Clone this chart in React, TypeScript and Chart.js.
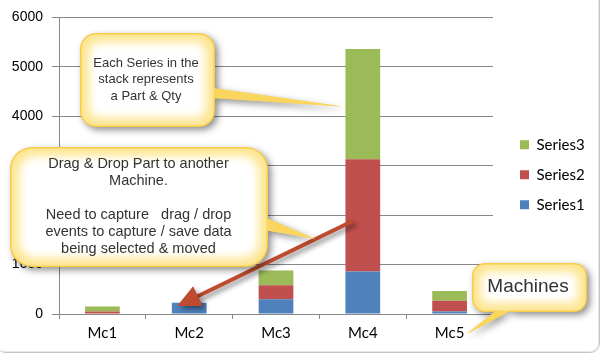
import React, { useEffect, useRef } from "react";
import { Chart, registerables } from "chart.js";

Chart.register(...registerables);

const categories = ["Mc1", "Mc2", "Mc3", "Mc4", "Mc5"];
const series1 = [0, 230, 300, 860, 50];
const series2 = [50, 0, 280, 2270, 220];
const series3 = [100, 0, 300, 2230, 195];
const seriesNames = ["Series1", "Series2", "Series3"];
const seriesColors = ["#4f81bd", "#c0504d", "#9bbb59"];
const yMin = 0;
const yMax = 6000;
const yStep = 1000;

const note1 = ["Each Series in the", "stack represents", "a Part & Qty"];
const note2 = [
  "Drag & Drop Part to another",
  "Machine.",
  "",
  "Need to capture   drag / drop",
  "events to capture / save data",
  "being selected & moved",
];
const note3 = ["Machines"];

const W = 601;
const H = 354;
const AREA_RIGHT = 493;
const LEG_PAD = 15;
const LEG_FONT = 15;
const LEG_BOX = 9;
const DUMMY_W = 12;

function roundRectPath(ctx: CanvasRenderingContext2D, x: number, y: number, w: number, h: number, r: number) {
  ctx.moveTo(x + r, y);
  ctx.lineTo(x + w - r, y);
  ctx.arcTo(x + w, y, x + w, y + r, r);
  ctx.lineTo(x + w, y + h - r);
  ctx.arcTo(x + w, y + h, x + w - r, y + h, r);
  ctx.lineTo(x + r, y + h);
  ctx.arcTo(x, y + h, x, y + h - r, r);
  ctx.lineTo(x, y + r);
  ctx.arcTo(x, y, x + r, y, r);
  ctx.closePath();
}

function drawCallout(
  ctx: CanvasRenderingContext2D,
  x: number, y: number, w: number, h: number, r: number,
  wedge: number[][],
  lines: string[], font: string, cx: number, cy: number, lh: number
) {
  ctx.save();
  ctx.shadowColor = "rgba(0,0,0,0.45)";
  ctx.shadowBlur = 7;
  ctx.shadowOffsetX = 3;
  ctx.shadowOffsetY = 3;
  ctx.fillStyle = "#f9cd4a";
  ctx.beginPath();
  roundRectPath(ctx, x, y, w, h, r);
  ctx.moveTo(wedge[0][0], wedge[0][1]);
  ctx.lineTo(wedge[2][0], wedge[2][1]);
  ctx.lineTo(wedge[1][0], wedge[1][1]);
  ctx.closePath();
  ctx.fill();
  ctx.restore();

  ctx.save();
  ctx.fillStyle = "#fbd65e";
  ctx.beginPath();
  ctx.moveTo(wedge[0][0], wedge[0][1]);
  ctx.lineTo(wedge[2][0], wedge[2][1]);
  ctx.lineTo(wedge[1][0], wedge[1][1]);
  ctx.closePath();
  ctx.fill();
  ctx.restore();

  ctx.save();
  ctx.beginPath();
  roundRectPath(ctx, x + 1.5, y + 1.5, w - 3, h - 3, Math.max(r - 1.5, 1));
  ctx.clip();
  ctx.fillStyle = "#fde58f";
  ctx.fillRect(x, y, w, h);
  ctx.filter = "blur(5px)";
  ctx.fillStyle = "#ffffff";
  ctx.beginPath();
  roundRectPath(ctx, x + 9, y + 9, w - 18, h - 18, Math.max(r - 6, 2));
  ctx.fill();
  ctx.filter = "none";
  ctx.restore();

  ctx.save();
  ctx.fillStyle = "#333333";
  ctx.font = font;
  ctx.textAlign = "center";
  ctx.textBaseline = "middle";
  lines.forEach((t, i) => {
    if (t) ctx.fillText(t, cx, cy + i * lh);
  });
  ctx.restore();
}

const frame = {
  id: "frame",
  beforeDraw(chart: any) {
    const ctx = chart.ctx as CanvasRenderingContext2D;
    ctx.save();
    ctx.fillStyle = "#ffffff";
    ctx.fillRect(0, 0, W, H);
    ctx.strokeStyle = "#c4c4c4";
    ctx.lineWidth = 1;
    ctx.beginPath();
    roundRectPath(ctx, -3.5, -12.5, 603, 365, 9);
    ctx.stroke();
    ctx.strokeStyle = "#e6e6e6";
    ctx.beginPath();
    roundRectPath(ctx, -4.5, -13.5, 603, 365, 9);
    ctx.stroke();
    ctx.restore();
  },
};

const notes = {
  id: "notes",
  afterDraw(chart: any) {
    const ctx = chart.ctx as CanvasRenderingContext2D;
    const xs = chart.scales.x;
    const ys = chart.scales.y;
    const xMc2 = xs.getPixelForValue(1);
    const xMc4 = xs.getPixelForValue(3);
    const xMc5 = xs.getPixelForValue(4);

    const sx = xMc4 - 10, sy = ys.getPixelForValue(1880);
    const tx = xMc2 - 12, ty = ys.getPixelForValue(160);
    const dx = tx - sx, dy = ty - sy;
    const len = Math.sqrt(dx * dx + dy * dy);
    const ux = dx / len, uy = dy / len;
    const hl = 23, hw = 11;
    const bx = tx - ux * hl, by = ty - uy * hl;
    ctx.save();
    ctx.shadowColor = "rgba(0,0,0,0.45)";
    ctx.shadowBlur = 5;
    ctx.shadowOffsetX = 3;
    ctx.shadowOffsetY = 3;
    ctx.strokeStyle = "#be4a2f";
    ctx.fillStyle = "#be4a2f";
    ctx.lineWidth = 4;
    ctx.beginPath();
    ctx.moveTo(sx, sy);
    ctx.lineTo(bx + ux * 2, by + uy * 2);
    ctx.stroke();
    ctx.beginPath();
    ctx.moveTo(tx, ty);
    ctx.lineTo(bx - uy * hw, by + ux * hw);
    ctx.lineTo(bx + uy * hw, by - ux * hw);
    ctx.closePath();
    ctx.fill();
    ctx.restore();

    drawCallout(
      ctx, 80, 33, 135, 94, 16,
      [[212, 88], [212, 98], [xMc4 - 20, ys.getPixelForValue(4200)]],
      note1, "13px 'Liberation Sans', Arial, sans-serif", 146, 63, 16.5
    );
    drawCallout(
      ctx, 10, 147, 258, 120, 22,
      [[264, 217], [264, 230], [xMc4 - 48, ys.getPixelForValue(1520)]],
      note2, "14.5px 'Liberation Sans', Arial, sans-serif", 138.5, 164, 17
    );
    drawCallout(
      ctx, 472, 263, 115, 49, 13,
      [[498, 309], [514, 309], [xMc5 + 17, chart.chartArea.bottom + 20]],
      note3, "19px 'Liberation Sans', Arial, sans-serif", 528, 287, 20
    );
  },
};

export default function App() {
  const ref = useRef<HTMLCanvasElement | null>(null);

  useEffect(() => {
    const canvas = ref.current;
    if (!canvas) return;
    const mctx = document.createElement("canvas").getContext("2d") as CanvasRenderingContext2D;
    mctx.font = `${LEG_FONT}px Lato`;
    const tw = Math.max(...seriesNames.map((s) => mctx.measureText(s).width));
    const legendW = LEG_PAD + LEG_BOX + LEG_FONT / 2 + tw + 10;
    const padRight = W - AREA_RIGHT - DUMMY_W - legendW;

    const data = [series1, series2, series3];
    const chart = new Chart(canvas, {
      type: "bar",
      data: {
        labels: categories,
        datasets: data.map((d, i) => ({
          label: seriesNames[i],
          data: d,
          backgroundColor: seriesColors[i],
          borderWidth: 0,
          barPercentage: 0.4,
          categoryPercentage: 1,
        })),
      },
      options: {
        responsive: false,
        animation: false,
        devicePixelRatio: 1,
        layout: { padding: { left: 0, top: 14, right: padRight, bottom: 0 } },
        plugins: {
          legend: {
            position: "right",
            fullSize: false,
            reverse: true,
            title: { display: true, text: " ", font: { size: 10 }, padding: 3 },
            labels: {
              boxWidth: LEG_BOX,
              boxHeight: LEG_BOX,
              padding: LEG_PAD,
              color: "#000000",
              font: { family: "Lato", size: LEG_FONT },
            },
          },
          tooltip: { enabled: false },
          title: { display: false },
        },
        scales: {
          x: {
            stacked: true,
            grid: {
              display: true,
              drawOnChartArea: false,
              drawTicks: true,
              tickLength: 5,
              color: "#878787",
              offset: true,
            },
            border: { display: true, color: "#878787" },
            ticks: {
              color: "#000000",
              font: { family: "Lato", size: 15 },
              padding: 5,
              maxRotation: 0,
            },
            afterFit: (s: any) => {
              s.height = 40;
            },
          },
          y: {
            stacked: true,
            min: yMin,
            max: yMax,
            grid: { color: "#878787", tickLength: 7, drawTicks: true },
            border: { display: true, color: "#878787" },
            ticks: {
              stepSize: yStep,
              color: "#000000",
              font: { family: "'Liberation Sans', Arial, sans-serif", size: 14 },
              padding: 9,
              callback: (v: any) => String(v),
            },
            afterFit: (s: any) => {
              s.width = 59;
            },
          },
          y2: {
            type: "linear",
            position: "right",
            display: true,
            grid: { display: false, drawTicks: false },
            border: { display: false },
            ticks: { display: false },
            afterFit: (s: any) => {
              s.width = DUMMY_W;
            },
          },
        },
      },
      plugins: [frame, notes],
    } as any);
    return () => chart.destroy();
  }, []);

  return (
    <div style={{ position: "absolute", left: 0, top: 0, width: W, height: H, background: "#fff" }}>
      <canvas ref={ref} width={W} height={H} style={{ display: "block", width: W, height: H }} />
    </div>
  );
}
